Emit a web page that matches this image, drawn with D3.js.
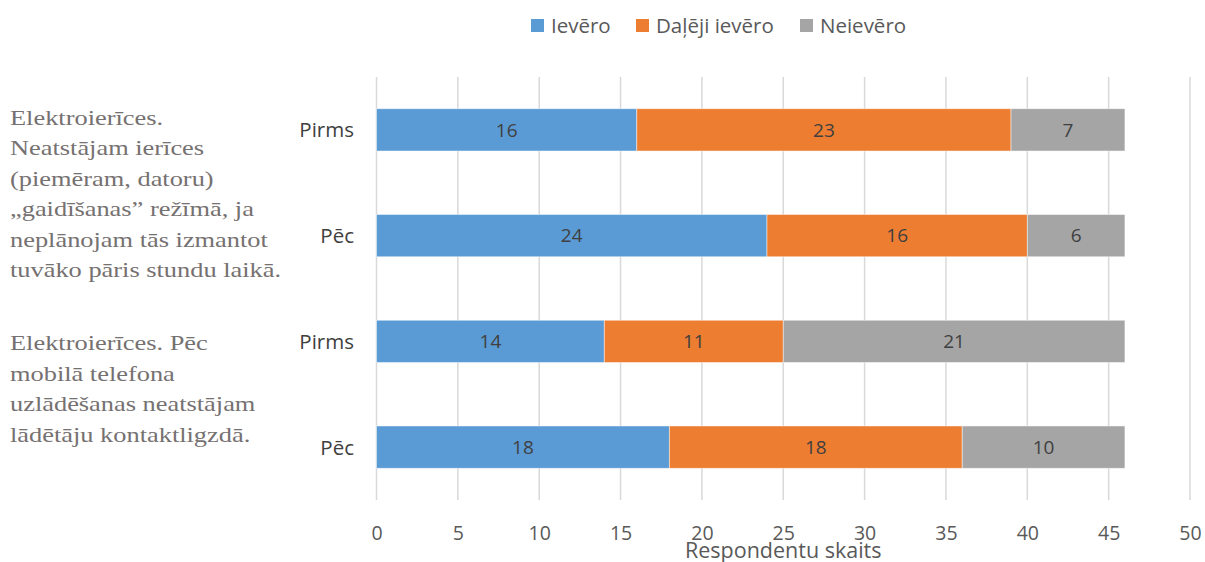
<!DOCTYPE html>
<html>
<head>
<meta charset="utf-8">
<script src="https://cdn.jsdelivr.net/npm/d3@7"></script>
<style>
  html, body { margin: 0; padding: 0; background: #fff; }
  svg { display: block; }
</style>
</head>
<body>
<svg id="chart" width="1205" height="562"></svg>
<script>
// Survey answers: how many respondents follow each energy-saving habit, before and after
const rowLabels = ["Pirms", "Pēc", "Pirms", "Pēc"];
const rowGroup = [0, 0, 1, 1];
const groupLabels = [
  ["Elektroierīces.", "Neatstājam ierīces", "(piemēram, datoru)", "„gaidīšanas” režīmā, ja", "neplānojam tās izmantot", "tuvāko pāris stundu laikā."],
  ["Elektroierīces. Pēc", "mobilā telefona", "uzlādēšanas neatstājam", "lādētāju kontaktligzdā."]
];
const seriesNames = ["Ievēro", "Daļēji ievēro", "Neievēro"];
const ieveroValues = [16, 24, 14, 18];
const dalejiValues = [23, 16, 11, 18];
const neieveroValues = [7, 6, 21, 10];
const xTicks = [0, 5, 10, 15, 20, 25, 30, 35, 40, 45, 50];
const axisTitle = "Respondentu skaits";

const colors = ["#5B9BD5", "#ED7D31", "#A5A5A5"];
const sansFont = "'Open Sans', sans-serif";
const serifFont = "'Liberation Serif', 'Times New Roman', serif";

const svg = d3.select("#chart");
const plot = { left: 376.5, right: 1190, top: 77, bottom: 500 };

const rows = rowLabels.map((label, i) => ({
  key: "r" + i, label, group: rowGroup[i],
  Ievēro: ieveroValues[i], "Daļēji ievēro": dalejiValues[i], Neievēro: neieveroValues[i]
}));

const x = d3.scaleLinear().domain([0, 50]).range([plot.left, plot.right]);
const y = d3.scaleBand().domain(rows.map(r => r.key))
  .range([plot.top, plot.bottom]).paddingInner(0.6).paddingOuter(0.3);

// vertical gridlines
svg.append("g").selectAll("line").data(xTicks).join("line")
  .attr("x1", d => x(d)).attr("x2", d => x(d))
  .attr("y1", plot.top).attr("y2", plot.bottom)
  .attr("stroke", "#d9d9d9").attr("stroke-width", 1.5);

// x axis tick labels
const xAxis = d3.axisBottom(x).tickValues(xTicks).tickSize(0).tickPadding(0);
const gx = svg.append("g").attr("transform", `translate(0,${plot.bottom})`).call(xAxis);
gx.select(".domain").remove();
gx.selectAll("text")
  .attr("dy", null).attr("y", 40)
  .attr("font-family", sansFont).attr("font-size", 19.5).attr("fill", "#595959");

svg.append("text")
  .attr("x", x(25)).attr("y", 558)
  .attr("text-anchor", "middle")
  .attr("font-family", sansFont).attr("font-size", 21.5).attr("fill", "#595959")
  .text(axisTitle);

// stacked bars
const stack = d3.stack().keys(seriesNames);
const layers = stack(rows);

const layerG = svg.append("g").selectAll("g").data(layers).join("g")
  .attr("fill", (d, i) => colors[i]);

layerG.selectAll("rect").data(d => d).join("rect")
  .attr("x", d => x(d[0]))
  .attr("y", d => y(d.data.key))
  .attr("width", d => x(d[1]) - x(d[0]))
  .attr("height", y.bandwidth())
  .attr("stroke", "#ffffff").attr("stroke-width", 0.8).attr("stroke-opacity", 0.6);

// value labels in each segment
layerG.selectAll("text").data(d => d).join("text")
  .attr("x", d => (x(d[0]) + x(d[1])) / 2)
  .attr("y", d => y(d.data.key) + y.bandwidth() / 2)
  .attr("dy", "0.36em")
  .attr("text-anchor", "middle")
  .attr("font-family", sansFont).attr("font-size", 19).attr("fill", "#404040")
  .text(d => d[1] - d[0]);

// row category labels
svg.append("g").selectAll("text").data(rows).join("text")
  .attr("x", 354)
  .attr("y", d => y(d.key) + y.bandwidth() / 2)
  .attr("dy", "0.36em")
  .attr("text-anchor", "end")
  .attr("font-family", sansFont).attr("font-size", 20.5).attr("fill", "#404040")
  .text(d => d.label);

// group labels (multi-line, serif, slightly widened)
const lineGap = 30.5;
const groupFirstBaseline = [
  y(rows[0].key) + 16,
  y(rows[2].key) + 30
];
groupLabels.forEach((lines, gi) => {
  const t = svg.append("text")
    .attr("transform", `translate(10,0) scale(1.2,1)`)
    .attr("font-family", serifFont).attr("font-size", 22).attr("fill", "#767171");
  lines.forEach((ln, li) => {
    t.append("tspan").attr("x", 0).attr("y", groupFirstBaseline[gi] + li * lineGap).text(ln);
  });
});

// legend
const legendItems = [
  { name: seriesNames[0], color: colors[0], x: 531 },
  { name: seriesNames[1], color: colors[1], x: 636 },
  { name: seriesNames[2], color: colors[2], x: 800 }
];
const lg = svg.append("g").selectAll("g").data(legendItems).join("g")
  .attr("transform", d => `translate(${d.x},19)`);
lg.append("rect").attr("width", 13).attr("height", 13).attr("fill", d => d.color);
lg.append("text")
  .attr("x", 20).attr("y", 6.5).attr("dy", "0.36em")
  .attr("font-family", sansFont).attr("font-size", 20.5).attr("fill", "#595959")
  .text(d => d.name);
</script>
</body>
</html>
